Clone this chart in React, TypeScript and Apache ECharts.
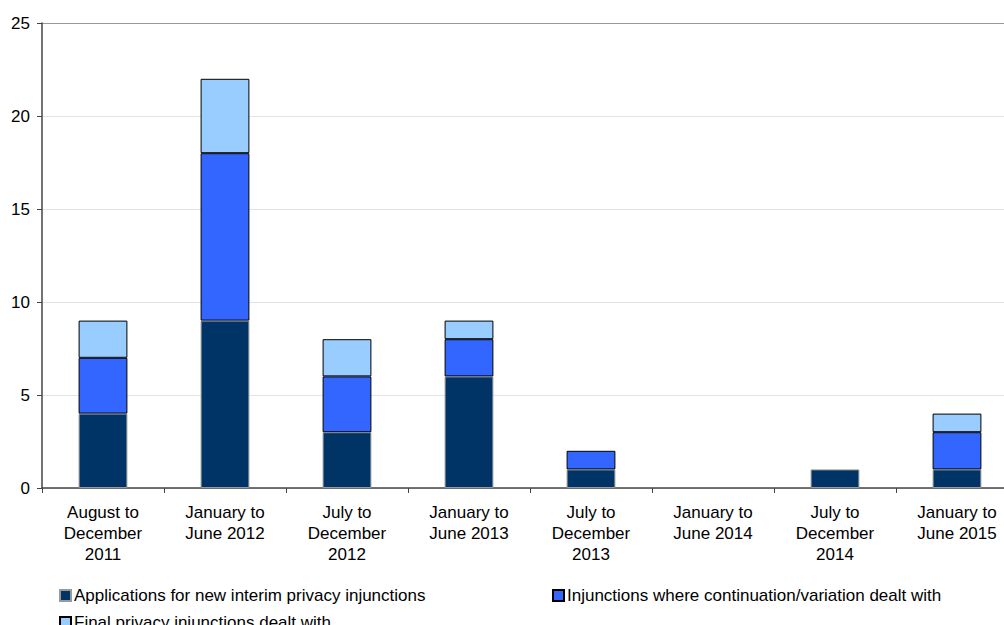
import React, { useEffect, useRef } from "react";
import * as echarts from "echarts";

const categories = [
  "August to\nDecember\n2011",
  "January to\nJune 2012",
  "July to\nDecember\n2012",
  "January to\nJune 2013",
  "July to\nDecember\n2013",
  "January to\nJune 2014",
  "July to\nDecember\n2014",
  "January to\nJune 2015",
];
const newApplications = [4, 9, 3, 6, 1, 0, 1, 1];
const continuation = [3, 9, 3, 2, 1, 0, 0, 2];
const finalInjunctions = [2, 4, 2, 1, 0, 0, 0, 1];
const seriesNames = [
  "Applications for new interim privacy injunctions",
  "Injunctions where continuation/variation dealt with",
  "Final privacy injunctions dealt with",
];
const yTicks = [0, 5, 10, 15, 20, 25];

const FONT = "Liberation Sans, Arial, sans-serif";

export default function App() {
  const ref = useRef<HTMLDivElement>(null);
  useEffect(() => {
    if (!ref.current) return;
    const chart = echarts.init(ref.current, undefined, { renderer: "svg" });
    const toData = (arr: number[]) => arr.map((v) => (v === 0 ? "-" : v));
    const legendBase = {
      orient: "horizontal" as const,
      itemWidth: 11,
      itemHeight: 11,
      itemGap: 4,
      icon: "rect",
      textStyle: { fontFamily: FONT, fontSize: 17, color: "#000", padding: [0, 0, 0, -2] },
      selectedMode: false,
    };
    chart.setOption({
      animation: false,
      textStyle: { fontFamily: FONT },
      grid: { left: 42, right: 2, top: 23, bottom: 152, containLabel: false },
      legend: [
        { ...legendBase, left: 54, top: 582, data: [seriesNames[0]] },
        { ...legendBase, left: 547, top: 582, data: [seriesNames[1]] },
        { ...legendBase, left: 54, top: 609, data: [seriesNames[2]] },
      ],
      xAxis: {
        type: "category",
        data: categories,
        boundaryGap: true,
        axisLine: { lineStyle: { color: "#444", width: 1.5 } },
        axisTick: { show: true, alignWithLabel: false, length: 5, lineStyle: { color: "#444" } },
        axisLabel: {
          interval: 0,
          fontFamily: FONT,
          fontSize: 17,
          color: "#000",
          lineHeight: 21,
          margin: 14,
        },
      },
      yAxis: {
        type: "value",
        min: 0,
        max: 25,
        interval: 5,
        axisLine: { show: true, lineStyle: { color: "#444", width: 1.5 } },
        axisTick: { show: true, length: 5, lineStyle: { color: "#444" } },
        axisLabel: { fontFamily: FONT, fontSize: 17, color: "#000", margin: 12 },
        splitLine: {
          show: true,
          lineStyle: {
            color: yTicks.map((t) => (t === 25 ? "#999" : "#e3e3e3")),
            width: 1,
          },
        },
      },
      series: [
        {
          name: seriesNames[0],
          type: "bar",
          stack: "total",
          barWidth: "40%",
          data: toData(newApplications),
          itemStyle: { color: "#003366", borderColor: "#999", borderWidth: 1 },
        },
        {
          name: seriesNames[1],
          type: "bar",
          stack: "total",
          barWidth: "40%",
          data: toData(continuation),
          itemStyle: { color: "#3366FF", borderColor: "#000", borderWidth: 1 },
        },
        {
          name: seriesNames[2],
          type: "bar",
          stack: "total",
          barWidth: "40%",
          data: toData(finalInjunctions),
          itemStyle: { color: "#99CCFF", borderColor: "#000", borderWidth: 1 },
        },
      ],
    });
    return () => chart.dispose();
  }, []);
  return (
    <div
      ref={ref}
      style={{ position: "absolute", left: 0, top: 0, width: 1020, height: 640 }}
    />
  );
}
